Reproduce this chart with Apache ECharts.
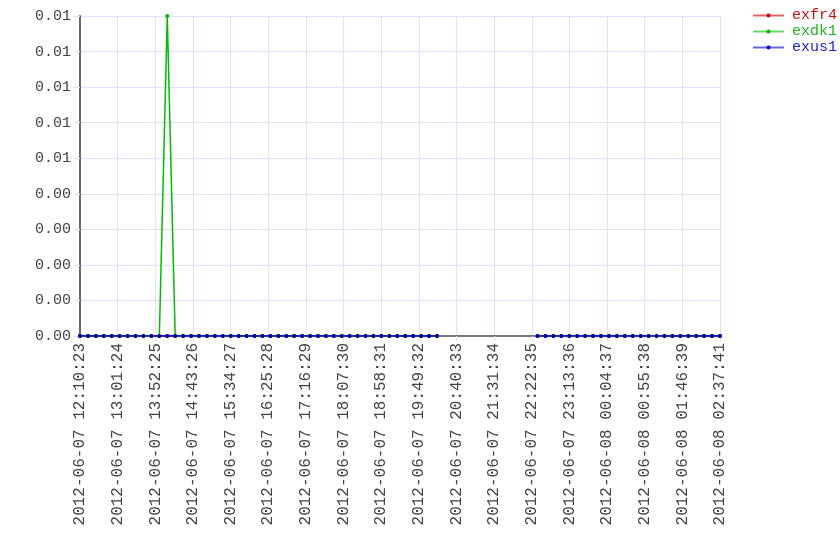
<!DOCTYPE html>
<html>
<head>
<meta charset="utf-8">
<script src="https://cdn.jsdelivr.net/npm/echarts@6/dist/echarts.min.js"></script>
<style>
  html, body { margin: 0; padding: 0; background: #fff; }
  #chart { width: 840px; height: 560px; }
</style>
</head>
<body>
<div id="chart"></div>
<script>
var tickLabels = [
  "2012-06-07 12:10:23", "2012-06-07 13:01:24", "2012-06-07 13:52:25",
  "2012-06-07 14:43:26", "2012-06-07 15:34:27", "2012-06-07 16:25:28",
  "2012-06-07 17:16:29", "2012-06-07 18:07:30", "2012-06-07 18:58:31",
  "2012-06-07 19:49:32", "2012-06-07 20:40:33", "2012-06-07 21:31:34",
  "2012-06-07 22:22:35", "2012-06-07 23:13:36", "2012-06-08 00:04:37",
  "2012-06-08 00:55:38", "2012-06-08 01:46:39", "2012-06-08 02:37:41"
];

var times = [
  "2012-06-07 12:10:23", "2012-06-07 12:21:08", "2012-06-07 12:31:53", "2012-06-07 12:42:38",
  "2012-06-07 12:53:23", "2012-06-07 13:04:08", "2012-06-07 13:14:53", "2012-06-07 13:25:38",
  "2012-06-07 13:36:23", "2012-06-07 13:47:08", "2012-06-07 13:57:53", "2012-06-07 14:08:38",
  "2012-06-07 14:19:23", "2012-06-07 14:30:08", "2012-06-07 14:40:53", "2012-06-07 14:51:38",
  "2012-06-07 15:02:23", "2012-06-07 15:13:08", "2012-06-07 15:23:53", "2012-06-07 15:34:38",
  "2012-06-07 15:45:23", "2012-06-07 15:56:08", "2012-06-07 16:06:53", "2012-06-07 16:17:38",
  "2012-06-07 16:28:23", "2012-06-07 16:39:08", "2012-06-07 16:49:53", "2012-06-07 17:00:38",
  "2012-06-07 17:11:23", "2012-06-07 17:22:08", "2012-06-07 17:32:53", "2012-06-07 17:43:38",
  "2012-06-07 17:54:23", "2012-06-07 18:05:08", "2012-06-07 18:15:53", "2012-06-07 18:26:38",
  "2012-06-07 18:37:23", "2012-06-07 18:48:08", "2012-06-07 18:58:53", "2012-06-07 19:09:38",
  "2012-06-07 19:20:23", "2012-06-07 19:31:08", "2012-06-07 19:41:53", "2012-06-07 19:52:38",
  "2012-06-07 20:03:23", "2012-06-07 20:14:08",
  "2012-06-07 22:30:26", "2012-06-07 22:41:11", "2012-06-07 22:51:56", "2012-06-07 23:02:41",
  "2012-06-07 23:13:26", "2012-06-07 23:24:11", "2012-06-07 23:34:56", "2012-06-07 23:45:41",
  "2012-06-07 23:56:26", "2012-06-08 00:07:11", "2012-06-08 00:17:56", "2012-06-08 00:28:41",
  "2012-06-08 00:39:26", "2012-06-08 00:50:11", "2012-06-08 01:00:56", "2012-06-08 01:11:41",
  "2012-06-08 01:22:26", "2012-06-08 01:33:11", "2012-06-08 01:43:56", "2012-06-08 01:54:41",
  "2012-06-08 02:05:26", "2012-06-08 02:16:11", "2012-06-08 02:26:56", "2012-06-08 02:37:41"
];

var exfr4 = [
  0, 0, 0, 0, 0, 0, 0, 0, 0, 0,
  0, 0, 0, 0, 0, 0, 0, 0, 0, 0,
  0, 0, 0, 0, 0, 0, 0, 0, 0, 0,
  0, 0, 0, 0, 0, 0, 0, 0, 0, 0,
  0, 0, 0, 0, 0, 0, 0, 0, 0, 0,
  0, 0, 0, 0, 0, 0, 0, 0, 0, 0,
  0, 0, 0, 0, 0, 0, 0, 0, 0, 0
];
var exdk1 = [
  0, 0, 0, 0, 0, 0, 0, 0, 0, 0,
  0, 0.01, 0, 0, 0, 0, 0, 0, 0, 0,
  0, 0, 0, 0, 0, 0, 0, 0, 0, 0,
  0, 0, 0, 0, 0, 0, 0, 0, 0, 0,
  0, 0, 0, 0, 0, 0, 0, 0, 0, 0,
  0, 0, 0, 0, 0, 0, 0, 0, 0, 0,
  0, 0, 0, 0, 0, 0, 0, 0, 0, 0
];
var exus1 = [
  0, 0, 0, 0, 0, 0, 0, 0, 0, 0,
  0, 0, 0, 0, 0, 0, 0, 0, 0, 0,
  0, 0, 0, 0, 0, 0, 0, 0, 0, 0,
  0, 0, 0, 0, 0, 0, 0, 0, 0, 0,
  0, 0, 0, 0, 0, 0, 0, 0, 0, 0,
  0, 0, 0, 0, 0, 0, 0, 0, 0, 0,
  0, 0, 0, 0, 0, 0, 0, 0, 0, 0
];

var yMax = 0.01;
var yTicks = 9;

function toMs(s) {
  return new Date(s.replace(" ", "T")).getTime();
}

var t0 = toMs(tickLabels[0]);
var t1 = toMs(tickLabels[tickLabels.length - 1]);
var step = (t1 - t0) / (tickLabels.length - 1);

// x positions measured in tick-label units, so ticks land on 0, 1, 2, ...
function buildData(values) {
  var out = [];
  for (var i = 0; i < times.length; i++) {
    var x = (toMs(times[i]) - t0) / step;
    if (i > 0) {
      var prev = (toMs(times[i - 1]) - t0) / step;
      if (x - prev > 0.5) out.push([(x + prev) / 2, "-"]);
    }
    out.push([x, values[i]]);
  }
  return out;
}

var font = "Liberation Mono";
var chart = echarts.init(document.getElementById("chart"));

function lineSeries(name, color, values) {
  return {
    name: name,
    type: "line",
    data: buildData(values),
    symbol: "circle",
    symbolSize: 4,
    showSymbol: true,
    connectNulls: false,
    animation: false,
    itemStyle: { color: color },
    lineStyle: { color: color, width: 1.5 },
    emphasis: { disabled: true }
  };
}

var option = {
  backgroundColor: "#ffffff",
  animation: false,
  grid: { left: 80, top: 16, right: 120, bottom: 224, containLabel: false },
  legend: {
    orient: "vertical",
    left: 752,
    top: 8,
    itemWidth: 31,
    itemHeight: 5,
    itemGap: 1,
    padding: 0,
    textStyle: { fontFamily: font, fontSize: 15, lineHeight: 15, padding: [0, 0, 0, 3] },
    lineStyle: { opacity: 0.6, width: 2 },
    data: [
      { name: "exfr4", textStyle: { color: "#cc1111" } },
      { name: "exdk1", textStyle: { color: "#22b422" } },
      { name: "exus1", textStyle: { color: "#2222cc" } }
    ]
  },
  xAxis: {
    type: "value",
    min: 0,
    max: tickLabels.length - 1,
    interval: 1,
    axisLine: { lineStyle: { color: "#777777", width: 2 } },
    axisTick: { show: true, length: 5, lineStyle: { color: "#dcdcff" } },
    splitLine: { show: true, lineStyle: { color: "#e0e0ff", width: 1 } },
    axisLabel: {
      rotate: 90,
      margin: 7,
      fontFamily: font,
      fontSize: 16,
      color: "#444444",
      formatter: function (v) {
        return tickLabels[Math.round(v)];
      }
    }
  },
  yAxis: {
    type: "value",
    min: 0,
    max: yMax,
    interval: yMax / yTicks,
    axisLine: { show: true, lineStyle: { color: "#666670", width: 2 } },
    axisTick: { show: true, length: 6, lineStyle: { color: "#dcdcff" } },
    splitLine: { show: true, lineStyle: { color: "#e0e0ff", width: 1 } },
    axisLabel: {
      margin: 9,
      fontFamily: font,
      fontSize: 15,
      color: "#444444",
      formatter: function (v) {
        return v.toFixed(2);
      }
    }
  },
  series: [
    lineSeries("exfr4", "#cc0000", exfr4),
    lineSeries("exdk1", "#00bb00", exdk1),
    lineSeries("exus1", "#0000cc", exus1)
  ]
};

chart.setOption(option);
</script>
</body>
</html>
